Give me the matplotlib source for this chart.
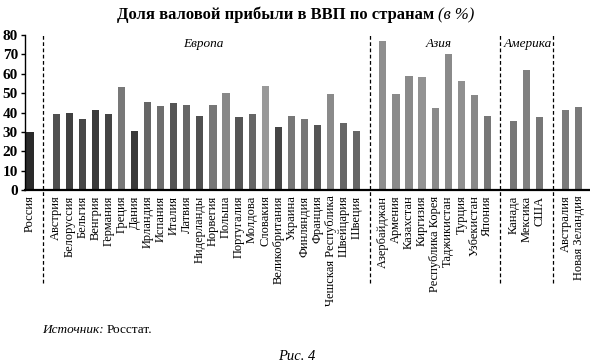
import matplotlib
matplotlib.use("Agg")
import matplotlib.pyplot as plt

countries = ["Россия",
             "Австрия", "Белоруссия", "Бельгия", "Венгрия", "Германия", "Греция", "Дания",
             "Ирландия", "Испания", "Италия", "Латвия", "Нидерланды", "Норвегия", "Польша",
             "Португалия", "Молдова", "Словакия", "Великобритания", "Украина", "Финляндия",
             "Франция", "Чешская Республика", "Швейцария", "Швеция",
             "Азербайджан", "Армения", "Казахстан", "Киргизия", "Республика Корея",
             "Таджикистан", "Турция", "Узбекистан", "Япония",
             "Канада", "Мексика", "США",
             "Австралия", "Новая Зеландия"]
values = [30,
          39, 40, 36.5, 41.3, 39, 53, 30.3, 45.4, 43.2, 44.9, 43.9, 38, 44, 50,
          37.7, 39, 53.5, 32.7, 38, 36.8, 33.4, 49.5, 34.4, 30.5,
          77, 49.5, 58.8, 58.5, 42.5, 70.2, 56.1, 48.9, 38,
          35.5, 62.1, 37.5,
          41.3, 42.7]
group_sizes = [1, 24, 9, 3, 2]
group_names = ["", "Европа", "Азия", "Америка", ""]
yticks = [0, 10, 20, 30, 40, 50, 60, 70, 80]

bar_colors = ["#2a2a2a",
              "#505050", "#404040", "#474747", "#3a3a3a", "#444444", "#787878", "#3a3a3a",
              "#666666", "#6e6e6e", "#555555", "#666666", "#505050", "#777777", "#888888",
              "#555555", "#666666", "#999999", "#454545", "#777777", "#777777", "#555555",
              "#8a8a8a", "#666666", "#666666",
              "#8f8f8f", "#8a8a8a", "#8a8a8a", "#939393", "#8a8a8a", "#8a8a8a", "#909090",
              "#888888", "#777777",
              "#777777", "#808080", "#777777",
              "#7a7a7a", "#7a7a7a"]

serif = "Liberation Serif"
plt.rcParams["font.family"] = [serif, "DejaVu Serif"]

fig = plt.figure(figsize=(5.9, 3.64), dpi=100)
ax = fig.add_axes([25 / 590, 174 / 364, 565 / 590, 155 / 364])

# positions: groups separated by one empty slot
positions = []
sep_lines = []
pos = 0
for gi, n in enumerate(group_sizes):
    for k in range(n):
        positions.append(pos)
        pos += 1
    if gi < len(group_sizes) - 1:
        sep_lines.append(pos)
        pos += 1

ax.bar(positions, values, width=0.55, color=bar_colors, edgecolor="none", zorder=2)

ax.set_xlim(-0.38, 42.85)
ax.set_ylim(0, 80)
ax.set_yticks(yticks)
ax.set_yticklabels([str(t) for t in yticks], fontsize=11, fontweight="bold")
ax.tick_params(axis="y", length=3, width=1, pad=2, direction="out")
ax.set_xticks(positions)
ax.set_xticklabels(countries, rotation=90, fontsize=9, va="top", ha="center")
ax.tick_params(axis="x", length=0, pad=4)

for s in ["top", "right"]:
    ax.spines[s].set_visible(False)
ax.spines["left"].set_linewidth(1.0)
ax.spines["bottom"].set_linewidth(1.6)

for x in sep_lines:
    ax.plot([x, x], [-0.6, 1.006], transform=ax.get_xaxis_transform(),
            color="black", lw=0.9, ls=(0, (3, 2)), clip_on=False, zorder=3)

# group titles
group_label_x = {"Европа": 13.3, "Азия": 31.3, "Америка": 38.1}
for name, gx in group_label_x.items():
    ax.text(gx, 75.5, name, fontsize=9.5, style="italic", ha="center", va="center")

# title
t1 = fig.text(117 / 590, 1 - 15 / 364, "Доля валовой прибыли в ВВП по странам ",
              fontsize=12, fontweight="bold", ha="left", va="center")
fig.canvas.draw()
bb = t1.get_window_extent()
fig.text(bb.x1 / fig.bbox.width, 1 - 15 / 364, "(в %)", fontsize=12,
         style="italic", ha="left", va="center")

# source and figure caption
s1 = fig.text(42 / 590, 1 - 330 / 364, "Источник: ", fontsize=9.5, style="italic",
              ha="left", va="center")
fig.canvas.draw()
bb = s1.get_window_extent()
fig.text(bb.x1 / fig.bbox.width, 1 - 330 / 364, "Росстат.", fontsize=9.5,
         ha="left", va="center")
fig.text(297 / 590, 1 - 357 / 364, "Рис. 4", fontsize=10.5, style="italic",
         ha="center", va="center")

fig.savefig("out.png", dpi=100)
